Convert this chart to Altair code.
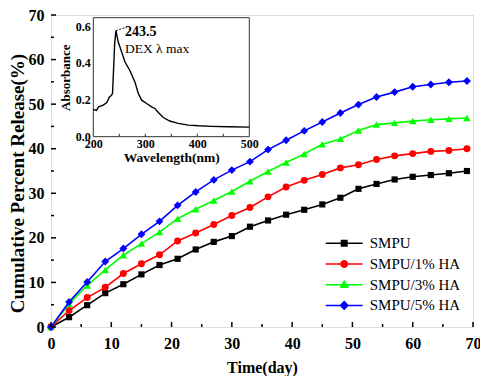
import altair as alt
import pandas as pd

# ---------------- data ----------------
days = list(range(0, 70, 3))
smpu = [0, 2.2, 4.9, 7.6, 9.6, 11.8, 13.9, 15.3, 17.4, 19.1, 20.4, 22.5,
        23.9, 25.2, 26.3, 27.5, 29.0, 31.0, 32.1, 33.1, 33.7, 34.1, 34.5, 35.0]
ha1 = [0, 3.7, 6.6, 8.9, 12.0, 14.2, 16.2, 19.3, 21.1, 23.0, 25.0, 26.8,
       29.2, 31.4, 32.9, 34.2, 35.7, 36.4, 37.6, 38.4, 38.9, 39.4, 39.6, 40.0]
ha3 = [0, 5.2, 9.3, 12.8, 16.1, 18.7, 21.3, 24.3, 26.4, 28.4, 30.4, 32.7,
       34.9, 36.9, 38.8, 41.0, 42.2, 44.1, 45.4, 45.8, 46.2, 46.5, 46.7, 46.9]
ha5 = [0, 5.6, 10.1, 14.7, 17.6, 20.8, 23.7, 27.3, 30.3, 33.0, 35.2, 37.1,
       39.8, 41.9, 44.0, 46.0, 48.0, 49.9, 51.6, 52.7, 53.9, 54.4, 54.9, 55.2]
series_names = ["SMPU", "SMPU/1% HA", "SMPU/3% HA", "SMPU/5% HA"]

wavelength = [200, 206, 210, 219, 226, 231, 235, 237, 241, 243.5, 248, 254.5,
              261, 270, 280, 286.5, 293, 302.5, 312, 318.6, 325, 334.6, 347,
              363.5, 383, 402, 427.5, 460, 500]
absorbance = [0.148, 0.142, 0.162, 0.171, 0.185, 0.216, 0.225, 0.235, 0.50,
              0.575, 0.513, 0.459, 0.405, 0.36, 0.297, 0.234, 0.198, 0.18,
              0.162, 0.153, 0.131, 0.104, 0.085, 0.072, 0.063, 0.059, 0.056,
              0.054, 0.052]
peak_label = "243.5"
peak_wl = [243.5]
peak_abs = [0.575]
annot_text = "DEX \u03bb max"

x_major = [0, 10, 20, 30, 40, 50, 60, 70]
x_minor = [5, 15, 25, 35, 45, 55, 65]
inset_x_labels = [200, 300, 400, 500]
inset_x_ticks = [250, 300, 350, 400, 450]
inset_y_labels = [0.0, 0.2, 0.4, 0.6]
inset_xdom = [200, 500]
inset_ydom = [0, 0.645]

# ---------------- styles ----------------
FONT = "Liberation Serif"
W, H = 422, 312
series_colors = ["#000000", "#ff0000", "#00ff00", "#0000ff"]
series_shapes = ["square", "circle", "triangle-up", "diamond"]
marker_sizes = [38, 48, 55, 62]
legend_paths = [
    "M-3.7,0H3.7M-0.55,-0.55H0.55V0.55H-0.55Z",
    "M-3.7,0H3.7M0.65,0A0.65,0.65,0,1,1,-0.65,0A0.65,0.65,0,1,1,0.65,0Z",
    "M-3.7,0H3.7M0,-0.7L0.7,0.5H-0.7Z",
    "M-3.7,0H3.7M0,-0.75L0.75,0L0,0.75L-0.75,0Z",
]

rows = []
for name, vals in zip(series_names, [smpu, ha1, ha3, ha5]):
    for d, v in zip(days, vals):
        rows.append({"day": d, "release": v, "series": name})
df = pd.DataFrame(rows)
leg_df = pd.DataFrame({"series": series_names})

xs = alt.Scale(domain=[0, 70], nice=False, zero=False)
ys = alt.Scale(domain=[0, 70], nice=False, zero=False)

x_axis = alt.Axis(orient="bottom", values=x_major, title="Time(day)",
                  labelFont=FONT, labelFontSize=16, labelFontWeight="bold",
                  labelColor="black", labelFlush=False, labelPadding=8,
                  ticks=False, domain=False, grid=False,
                  titleFont=FONT, titleFontSize=16, titleFontWeight="bold",
                  titleColor="black", titlePadding=8)
y_axis = alt.Axis(orient="left", values=x_major, title="Cumulative Percent Release(%)",
                  labelFont=FONT, labelFontSize=16, labelFontWeight="bold",
                  labelColor="black", labelPadding=7,
                  ticks=False, domain=False, grid=False,
                  titleFont=FONT, titleFontSize=19, titleFontWeight="bold",
                  titleColor="black", titleX=-23.5, titleY=H / 2 + 12,
                  titleBaseline="bottom", titleAngle=270, titleAlign="center")

layers = []
first = True
for name, col, shp, sz in zip(series_names, series_colors, series_shapes, marker_sizes):
    base = alt.Chart(df).transform_filter(alt.datum.series == name)
    if first:
        xe = alt.X("day:Q", scale=xs, axis=x_axis)
        ye = alt.Y("release:Q", scale=ys, axis=y_axis)
        first = False
    else:
        xe = alt.X("day:Q", scale=xs, axis=None)
        ye = alt.Y("release:Q", scale=ys, axis=None)
    layers.append(base.mark_line(strokeWidth=1.6, color=col).encode(x=xe, y=ye))
    layers.append(base.mark_point(shape=shp, filled=True, size=sz, color=col, opacity=1).encode(
        x=alt.X("day:Q", scale=xs, axis=None), y=alt.Y("release:Q", scale=ys, axis=None)))

leg = alt.Legend(title=None, orient="none", legendX=285.7, legendY=220.8,
                 labelFont=FONT, labelFontSize=15, labelColor="black",
                 symbolSize=100, symbolStrokeWidth=1.5, labelOffset=18,
                 rowPadding=4.7, padding=0, symbolOpacity=1)
legend_layer = alt.Chart(leg_df).mark_point(size=100, opacity=0, strokeWidth=1.5).encode(
    stroke=alt.Stroke("series:N", scale=alt.Scale(domain=series_names, range=series_colors), legend=leg),
    fill=alt.Fill("series:N", scale=alt.Scale(domain=series_names, range=series_colors), legend=leg),
    shape=alt.Shape("series:N", scale=alt.Scale(domain=series_names, range=legend_paths), legend=leg),
)
layers.append(legend_layer)

def xticks(vals, length):
    return alt.Chart(pd.DataFrame({"v": vals})).mark_rule(color="black", strokeWidth=1.5).encode(
        x=alt.X("v:Q", scale=xs, axis=None), y=alt.value(H), y2=alt.value(H - length))

def yticks(vals, length):
    return alt.Chart(pd.DataFrame({"v": vals})).mark_rule(color="black", strokeWidth=1.5).encode(
        y=alt.Y("v:Q", scale=ys, axis=None), x=alt.value(0), x2=alt.value(length))

layers += [xticks(x_major, 5), xticks(x_minor, 3), yticks(x_major, 5), yticks(x_minor, 3)]

# ---------------- inset ----------------
IL, IR, IT, IB = 42.3, 198.3, 2.7, 121.7
ix = alt.Scale(domain=inset_xdom, range=[IL, IR], nice=False, zero=False)
iy = alt.Scale(domain=inset_ydom, range=[IB, IT], nice=False, zero=False)

ix_axis = alt.Axis(orient="bottom", offset=-(H - IB), values=inset_x_labels, format="d",
                   title="Wavelength(nm)", labelFont=FONT, labelFontSize=12,
                   labelFontWeight="bold", labelColor="black", labelPadding=2,
                   labelFlush=False, ticks=False, domain=False, grid=False,
                   titleFont=FONT, titleFontSize=13.5, titleFontWeight="bold",
                   titleColor="black", titlePadding=1)
iy_axis = alt.Axis(orient="left", offset=-IL, values=inset_y_labels, format=".1f",
                   title="Absorbance", labelFont=FONT, labelFontSize=12,
                   labelFontWeight="bold", labelColor="black", labelPadding=3,
                   ticks=False, domain=False, grid=False,
                   titleFont=FONT, titleFontSize=13, titleFontWeight="bold",
                   titleColor="black", titlePadding=3)

spec_df = pd.DataFrame({"wl": wavelength, "abs": absorbance})
frame_df = pd.DataFrame({"x0": [inset_xdom[0]], "x1": [inset_xdom[1]],
                         "y0": [inset_ydom[0]], "y1": [inset_ydom[1]]})
peak_df = pd.DataFrame({"wl": peak_wl, "abs": peak_abs})

frame = alt.Chart(frame_df).mark_rect(fillOpacity=0, stroke="#333333", strokeWidth=1).encode(
    x=alt.X("x0:Q", scale=ix, axis=None), x2="x1:Q",
    y=alt.Y("y0:Q", scale=iy, axis=None), y2="y1:Q")
curve = alt.Chart(spec_df).mark_line(color="black", strokeWidth=1.4).encode(
    x=alt.X("wl:Q", scale=ix, axis=ix_axis), y=alt.Y("abs:Q", scale=iy, axis=iy_axis))
iticks = alt.Chart(pd.DataFrame({"v": inset_x_ticks})).mark_rule(color="#333333", strokeWidth=1).encode(
    x=alt.X("v:Q", scale=ix, axis=None), y=alt.value(IB), y2=alt.value(IB - 3))
leader = alt.Chart(peak_df).mark_rule(color="black", strokeWidth=1, strokeDash=[2, 1.5]).encode(
    x=alt.X("wl:Q", scale=ix, axis=None), y=alt.Y("abs:Q", scale=iy, axis=None),
    x2=alt.datum(261), y2=alt.datum(0.591))
txt1 = alt.Chart(peak_df).mark_text(text=peak_label, font=FONT, fontSize=14, fontWeight="bold",
                                    align="left", baseline="middle", dx=9, dy=1, color="black").encode(
    x=alt.X("wl:Q", scale=ix, axis=None), y=alt.Y("abs:Q", scale=iy, axis=None))
txt2 = alt.Chart(peak_df).mark_text(text=annot_text, font=FONT, fontSize=13.5,
                                    align="left", baseline="middle", dx=9, dy=18, color="black").encode(
    x=alt.X("wl:Q", scale=ix, axis=None), y=alt.Y("abs:Q", scale=iy, axis=None))

layers += [frame, iticks, curve, leader, txt1, txt2]

chart = alt.layer(*layers).resolve_scale(x="independent", y="independent").properties(
    width=W, height=H,
    autosize=alt.AutoSizeParams(type="none"),
    padding={"left": 43, "top": 7, "right": 7, "bottom": 49},
).configure_view(stroke="black", strokeWidth=2).configure(font=FONT)

chart.save("out.html", embed_options={"renderer": "svg", "actions": False})
